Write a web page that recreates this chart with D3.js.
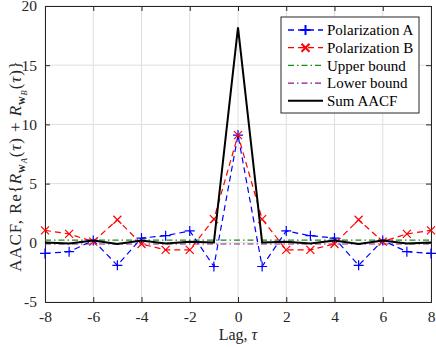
<!DOCTYPE html>
<html>
<head>
<meta charset="utf-8">
<script src="https://cdn.jsdelivr.net/npm/d3@7"></script>
<style>
  body { margin: 0; background: #fff; }
  svg text { font-family: "Liberation Serif", "DejaVu Serif", serif !important; }
</style>
</head>
<body>
<div id="chart"></div>
<script>
// data
var lags = [-8, -7, -6, -5, -4, -3, -2, -1, 0, 1, 2, 3, 4, 5, 6, 7, 8];
var polA = [-0.9, -0.75, 0.2, -1.9, 0.4, 0.6, 1.0, -2.0, 9.1, -2.0, 1.0, 0.6, 0.4, -1.9, 0.2, -0.75, -0.9];
var polB = [1.05, 0.75, 0.1, 1.95, -0.1, -0.6, -0.6, 2.0, 9.1, 2.0, -0.6, -0.6, -0.1, 1.95, 0.1, 0.75, 1.05];
var sumAACF = [0.03, -0.06, 0.2, -0.1, 0.2, -0.06, 0.08, 0.03, 18.2, 0.03, 0.08, -0.06, 0.2, -0.1, 0.2, -0.06, 0.03];
var upperBound = 0.22;
var lowerBound = -0.1;
var xTicks = [-8, -6, -4, -2, 0, 2, 4, 6, 8];
var yTicks = [-5, 0, 5, 10, 15, 20];
var legendNames = ["Polarization A", "Polarization B", "Upper bound", "Lower bound", "Sum AACF"];

var svgWidth = 436;
var svgHeight = 348;
var margin = { top: 6, right: 5, bottom: 46, left: 45 };
var width = svgWidth - margin.left - margin.right;
var height = svgHeight - margin.top - margin.bottom;

var svg = d3.select("#chart")
  .append("svg")
  .attr("width", svgWidth)
  .attr("height", svgHeight);

var chartGroup = svg.append("g")
  .attr("transform", `translate(${margin.left}, ${margin.top})`);

var xScale = d3.scaleLinear().domain([-8, 8]).range([0, width]);
var yScale = d3.scaleLinear().domain([-5, 20]).range([height, 0]);

// grid
chartGroup.selectAll(".gx").data(xTicks).enter().append("line")
  .attr("x1", d => xScale(d)).attr("x2", d => xScale(d))
  .attr("y1", 0).attr("y2", height)
  .attr("stroke", "#dedede").attr("stroke-width", 1);
chartGroup.selectAll(".gy").data(yTicks).enter().append("line")
  .attr("y1", d => yScale(d)).attr("y2", d => yScale(d))
  .attr("x1", 0).attr("x2", width)
  .attr("stroke", "#dedede").attr("stroke-width", 1);

// axes, ticks pointing inwards, plain hyphen for minus
var fmt = d => String(d);
var bottomAxis = d3.axisBottom(xScale).tickValues(xTicks).tickSize(-5).tickPadding(9).tickFormat(fmt);
var leftAxis = d3.axisLeft(yScale).tickValues(yTicks).tickSize(-5).tickPadding(8).tickFormat(fmt);

chartGroup.append("g")
  .attr("transform", `translate(0, ${height})`)
  .call(bottomAxis);
chartGroup.append("g").call(leftAxis);
chartGroup.append("g").call(d3.axisTop(xScale).tickValues(xTicks).tickSize(-5).tickFormat(""));
chartGroup.append("g").attr("transform", `translate(${width}, 0)`)
  .call(d3.axisRight(yScale).tickValues(yTicks).tickSize(-5).tickFormat(""));

chartGroup.selectAll(".domain").attr("stroke", "#262626");
chartGroup.selectAll(".tick line").attr("stroke", "#262626");
chartGroup.selectAll(".tick text")
  .style("font-size", "15.5px")
  .attr("fill", "#262626");

// bounds
var boundLine = d3.line().x(d => xScale(d[0])).y(d => yScale(d[1]));
chartGroup.append("path")
  .attr("d", boundLine([[-8, upperBound], [8, upperBound]]))
  .attr("fill", "none").attr("stroke", "#1a8a1a").attr("stroke-width", 1.2)
  .attr("stroke-dasharray", "6,3,1.5,3");
chartGroup.append("path")
  .attr("d", boundLine([[-8, lowerBound], [8, lowerBound]]))
  .attr("fill", "none").attr("stroke", "#8a1a8a").attr("stroke-width", 1.2)
  .attr("stroke-dasharray", "6,3,1.5,3");

var line = d3.line().x((d, i) => xScale(lags[i])).y(d => yScale(d));

chartGroup.append("path")
  .attr("d", line(polA))
  .attr("fill", "none").attr("stroke", "#0000ff").attr("stroke-width", 1.2)
  .attr("stroke-dasharray", "6,4");
chartGroup.append("path")
  .attr("d", line(polB))
  .attr("fill", "none").attr("stroke", "#ff0000").attr("stroke-width", 1.2)
  .attr("stroke-dasharray", "6,4");

// markers
var plusPath = "M-5,0H5M0,-5V5";
var crossPath = "M-4,-4L4,4M-4,4L4,-4";
chartGroup.selectAll(".mA").data(polA).enter().append("path")
  .attr("transform", (d, i) => `translate(${xScale(lags[i])},${yScale(d)})`)
  .attr("d", plusPath).attr("stroke", "#0000ff").attr("stroke-width", 1.2);
chartGroup.selectAll(".mB").data(polB).enter().append("path")
  .attr("transform", (d, i) => `translate(${xScale(lags[i])},${yScale(d)})`)
  .attr("d", crossPath).attr("stroke", "#ff0000").attr("stroke-width", 1.2);

chartGroup.append("path")
  .attr("d", line(sumAACF))
  .attr("fill", "none").attr("stroke", "#000").attr("stroke-width", 2);

// legend
var legend = chartGroup.append("g").attr("transform", "translate(236, 11)");
legend.append("rect")
  .attr("width", 138).attr("height", 96)
  .attr("fill", "#fff").attr("stroke", "#262626").attr("stroke-width", 1);
var legendStyles = [
  { color: "#0000ff", dash: "6,4", marker: plusPath, w: 1.3 },
  { color: "#ff0000", dash: "6,4", marker: crossPath, w: 1.3 },
  { color: "#1a8a1a", dash: "6,3,1.5,3", marker: null, w: 1.2 },
  { color: "#8a1a8a", dash: "6,3,1.5,3", marker: null, w: 1.2 },
  { color: "#000", dash: null, marker: null, w: 2 }
];
legendNames.forEach(function(name, i) {
  var y = 13 + i * 17.7;
  var st = legendStyles[i];
  legend.append("line")
    .attr("x1", 7).attr("x2", 42).attr("y1", y).attr("y2", y)
    .attr("stroke", st.color).attr("stroke-width", st.w)
    .attr("stroke-dasharray", st.dash);
  if (st.marker) {
    legend.append("path")
      .attr("transform", `translate(24.5,${y})`)
      .attr("d", st.marker).attr("stroke", st.color).attr("stroke-width", 2);
  }
  legend.append("text")
    .attr("x", 46).attr("y", y).attr("dy", "0.35em")
    .style("font-size", "15px").attr("fill", "#000")
    .text(name);
});

// axis labels
chartGroup.append("text")
  .attr("x", width / 2).attr("y", height + 38)
  .attr("text-anchor", "middle").style("font-size", "16px").attr("fill", "#262626")
  .html('Lag, <tspan font-style="italic">τ</tspan>');

var yl = chartGroup.append("text")
  .attr("transform", `translate(${21 - margin.left}, ${166 - margin.top}) rotate(-90)`)
  .attr("text-anchor", "middle").attr("fill", "#262626")
  .style("font-size", "17px");
yl.append("tspan").text("AACF, Re{");
yl.append("tspan").attr("font-style", "italic").text("R");
yl.append("tspan").attr("class", "s").attr("font-weight", "bold").attr("dy", 4).text("w");
yl.append("tspan").attr("class", "ss").attr("font-style", "italic").attr("dy", 2).text("A");
yl.append("tspan").attr("dy", -6).text("(");
yl.append("tspan").attr("font-style", "italic").text("τ");
yl.append("tspan").text(") + ");
yl.append("tspan").attr("font-style", "italic").text("R");
yl.append("tspan").attr("class", "s").attr("font-weight", "bold").attr("dy", 4).text("w");
yl.append("tspan").attr("class", "ss").attr("font-style", "italic").attr("dy", 2).text("B");
yl.append("tspan").attr("dy", -6).text("(");
yl.append("tspan").attr("font-style", "italic").text("τ");
yl.append("tspan").text(")}");
yl.selectAll(".s").style("font-size", "12px");
yl.selectAll(".ss").style("font-size", "8.5px");

// widen the y label a little toward its length in the reference (wider CM font there)
var targetLen = 277;
var len = yl.node().getComputedTextLength();
var nChars = yl.text().length;
if (len < targetLen) {
  yl.style("letter-spacing", Math.min(0.9, (targetLen - len) / nChars) + "px");
}
</script>
</body>
</html>
